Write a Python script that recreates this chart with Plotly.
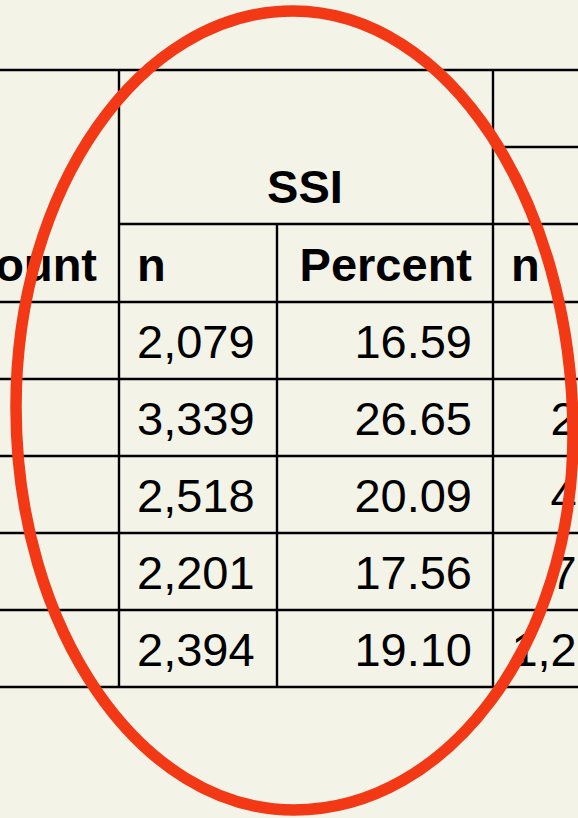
import plotly.graph_objects as go

# ---- data ----
ssi_n = ["2,079", "3,339", "2,518", "2,201", "2,394"]
ssi_pct = ["16.59", "26.65", "20.09", "17.56", "19.10"]
next_n = ["85", "231", "437", "712", "1,205"]   # column cut off at the right edge
left_header = "Count"
group_label = "SSI"
sub_headers = ["n", "Percent", "n"]

# ---- layout constants ----
W, H = 578, 818
BG = "#F3F3E8"
RED = "#F23815"
FONT = "Liberation Sans, Arial, sans-serif"
FS = 47
TOP_Y = 70
MID_Y = 147
SUB_Y = 224
HEAD_BOTTOM = 302
ROW_H = 77
V1, V2, V3 = 119, 277, 493
BASE_OFF = 17.5     # baseline below row centre
TXT_DY = 0.25 * FS  # plotly middle-text baseline offset

n_rows = len(ssi_n)
row_lines = [HEAD_BOTTOM + ROW_H * i for i in range(n_rows + 1)]
row_centers = [HEAD_BOTTOM + ROW_H * (i + 0.5) for i in range(n_rows)]
text_y = [c + BASE_OFF - TXT_DY for c in row_centers]
head_text_y = (SUB_Y + HEAD_BOTTOM) / 2 + BASE_OFF - TXT_DY

fig = go.Figure()

def txt(xs, ys, texts, pos, bold=False):
    fig.add_trace(go.Scatter(
        x=xs, y=ys, text=texts, mode="text", textposition=pos,
        textfont=dict(family=FONT, size=FS, color="black",
                      weight="bold" if bold else "normal"),
        hoverinfo="skip", showlegend=False, cliponaxis=True))

# header texts
txt([97], [head_text_y], [left_header], "middle left", bold=True)
txt([305], [203 - TXT_DY], [group_label], "middle center", bold=True)
txt([137, 472, 511], [head_text_y] * 3, sub_headers,
    ["middle right", "middle left", "middle right"], bold=True)

# body
txt([137] * n_rows, text_y, ssi_n, "middle right")
txt([472] * n_rows, text_y, ssi_pct, "middle left")
txt([629] * n_rows, text_y, next_n, "middle left")

shapes = []
line = dict(color="black", width=2.4)
def hl(y, x0, x1):
    shapes.append(dict(type="line", x0=x0, x1=x1, y0=y, y1=y, line=line, layer="below"))
def vl(x, y0, y1):
    shapes.append(dict(type="line", x0=x, x1=x, y0=y0, y1=y1, line=line, layer="below"))

hl(TOP_Y, 0, W)
hl(MID_Y, V3, W)
hl(SUB_Y, V1, W)
for y in row_lines:
    hl(y, 0, W)
vl(V1, TOP_Y, row_lines[-1])
vl(V2, SUB_Y, row_lines[-1])
vl(V3, TOP_Y, row_lines[-1])

# hand-drawn red ellipse
top, right, bottom, left = (293, 11), (573, 435), (294, 810), (16, 407)
k = 0.5523
def seg(p, q, horiz_first):
    if horiz_first:
        c1 = (p[0] + k * (q[0] - p[0]), p[1])
        c2 = (q[0], q[1] + k * (p[1] - q[1]))
    else:
        c1 = (p[0], p[1] + k * (q[1] - p[1]))
        c2 = (q[0] + k * (p[0] - q[0]), q[1])
    return f"C {c1[0]:.1f},{c1[1]:.1f} {c2[0]:.1f},{c2[1]:.1f} {q[0]},{q[1]} "
path = (f"M {top[0]},{top[1]} " + seg(top, right, True) + seg(right, bottom, False)
        + seg(bottom, left, True) + seg(left, top, False) + "Z")
shapes.append(dict(type="path", path=path, line=dict(color=RED, width=11.5),
                   fillcolor="rgba(0,0,0,0)", layer="above"))

fig.update_layout(
    width=W, height=H, margin=dict(l=0, r=0, t=0, b=0),
    paper_bgcolor=BG, plot_bgcolor=BG, shapes=shapes,
    xaxis=dict(range=[0, W], visible=False, fixedrange=True),
    yaxis=dict(range=[H, 0], visible=False, fixedrange=True),
    showlegend=False,
)
fig.write_html(
    "out.html",
    config={"displayModeBar": False},
    post_script="document.body.style.margin='0';document.body.style.background='" + BG + "';",
)
